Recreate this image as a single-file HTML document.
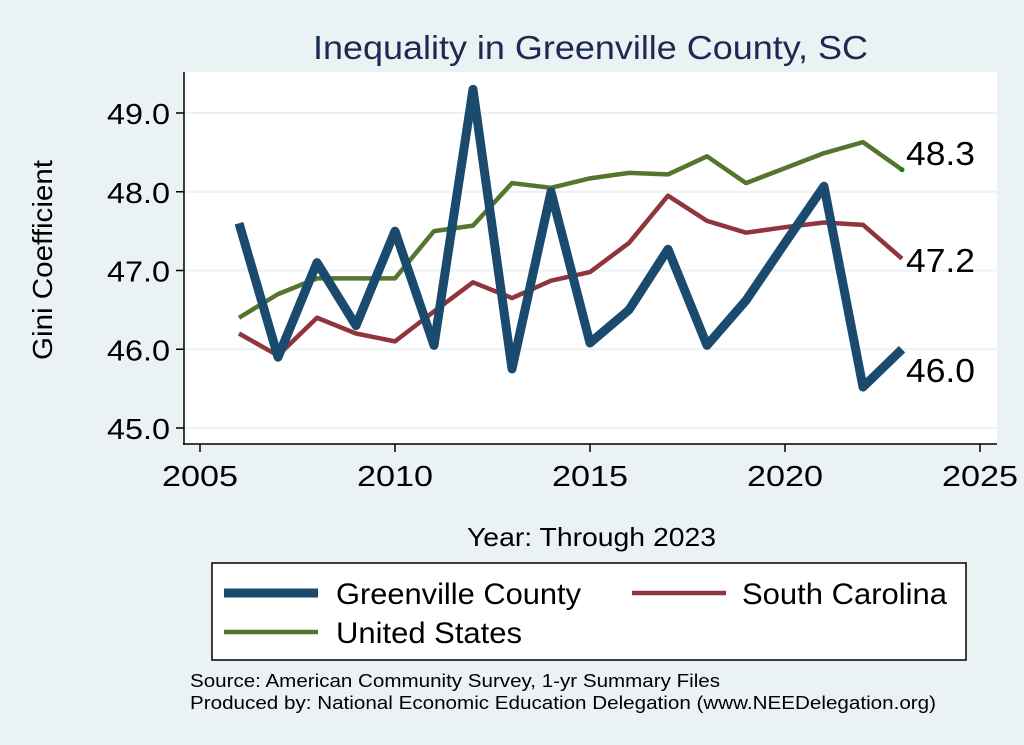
<!DOCTYPE html>
<html><head><meta charset="utf-8"><style>
body{margin:0;background:#eaf2f3;}
svg{display:block;font-family:"Liberation Sans",sans-serif;}
</style></head><body>
<svg id="s" width="1024" height="745" xmlns="http://www.w3.org/2000/svg">
<rect width="1024" height="745" fill="#eaf2f3"/>
<rect x="184" y="72" width="813" height="372" fill="#fff"/>
<g id="grid" stroke="#eaf2f3" stroke-width="2"></g>
<line x1="184" y1="72" x2="184" y2="445" stroke="#000" stroke-width="1.5"/>
<line x1="183" y1="444" x2="997" y2="444" stroke="#000" stroke-width="1.5"/>
<g id="ticks" stroke="#000" stroke-width="1.5"></g>
<g id="labels" font-size="29" fill="#000"></g>
<text x="313" y="59" textLength="555" lengthAdjust="spacingAndGlyphs" font-size="33" fill="#1a2a52">Inequality in Greenville County, SC</text>
<text transform="translate(52,260) rotate(-90)" text-anchor="middle" font-size="28" textLength="200" lengthAdjust="spacingAndGlyphs">Gini Coefficient</text>
<text x="467" y="546" font-size="26" textLength="249" lengthAdjust="spacingAndGlyphs">Year: Through 2023</text>
<g id="lines" fill="none" stroke-linejoin="round"></g>
<text x="906" y="165" font-size="33" textLength="69" lengthAdjust="spacingAndGlyphs">48.3</text>
<text x="906" y="272" font-size="33" textLength="69" lengthAdjust="spacingAndGlyphs">47.2</text>
<text x="906" y="382" font-size="33" textLength="69" lengthAdjust="spacingAndGlyphs">46.0</text>
<rect x="212" y="563" width="754" height="97" fill="#fff" stroke="#000" stroke-width="1.5"/>
<line x1="224" y1="593" x2="318" y2="593" stroke="#1a4a6e" stroke-width="9"/>
<text x="336" y="604" font-size="30" textLength="245" lengthAdjust="spacingAndGlyphs">Greenville County</text>
<line x1="632" y1="593" x2="726" y2="593" stroke="#90353b" stroke-width="4.5"/>
<text x="742" y="604" font-size="30" textLength="205" lengthAdjust="spacingAndGlyphs">South Carolina</text>
<line x1="224" y1="632" x2="318" y2="632" stroke="#55752f" stroke-width="4.5"/>
<text x="336" y="643" font-size="30" textLength="186" lengthAdjust="spacingAndGlyphs">United States</text>
<text x="190" y="687" font-size="18" textLength="530" lengthAdjust="spacingAndGlyphs">Source: American Community Survey, 1-yr Summary Files</text>
<text x="190" y="709" font-size="18" textLength="746" lengthAdjust="spacingAndGlyphs">Produced by: National Economic Education Delegation (www.NEEDelegation.org)</text>
</svg>
<script>
var ns="http://www.w3.org/2000/svg";
function X(y){return 200+(y-2005)*39;}
function Y(v){return 428-(v-45)*78.75;}
function el(p,t,a,txt){var e=document.createElementNS(ns,t);for(var k in a)e.setAttribute(k,a[k]);if(txt)e.textContent=txt;document.getElementById(p).appendChild(e);}
for(var v=45;v<=49;v++){el("grid","line",{x1:185,x2:997,y1:Y(v),y2:Y(v)});el("ticks","line",{x1:176,x2:184,y1:Y(v),y2:Y(v)});el("labels","text",{x:170,y:Y(v)+11,"text-anchor":"end",textLength:63,lengthAdjust:"spacingAndGlyphs"},v.toFixed(1));}
for(var y=2005;y<=2025;y+=5){el("labels","text",{x:X(y)-38,y:486,textLength:76,lengthAdjust:"spacingAndGlyphs"},""+y);el("ticks","line",{x1:X(y),x2:X(y),y1:444,y2:452});}
var gc=[47.6,45.9,47.1,46.3,47.5,46.05,49.3,45.75,48.0,46.08,46.5,47.27,46.05,46.62,47.35,48.07,45.52,46.0];
var sc=[46.2,45.92,46.4,46.2,46.1,46.48,46.85,46.65,46.87,46.98,47.35,47.95,47.63,47.48,47.55,47.61,47.58,47.15];
var us=[46.4,46.7,46.9,46.9,46.9,47.5,47.57,48.11,48.05,48.17,48.24,48.22,48.45,48.11,48.3,48.49,48.63,48.28];
function pts(a){return a.map(function(v,i){return X(2006+i)+","+Y(v)}).join(" ");}
el("lines","polyline",{points:pts(sc),stroke:"#90353b","stroke-width":4.5});
el("lines","polyline",{points:pts(us),stroke:"#55752f","stroke-width":4.5});
el("lines","polyline",{points:pts(gc),stroke:"#1a4a6e","stroke-width":9});
el("lines","circle",{cx:X(2023),cy:Y(48.28),r:2.5,fill:"#0a8a0a",stroke:"none"});
</script>
</body></html>
